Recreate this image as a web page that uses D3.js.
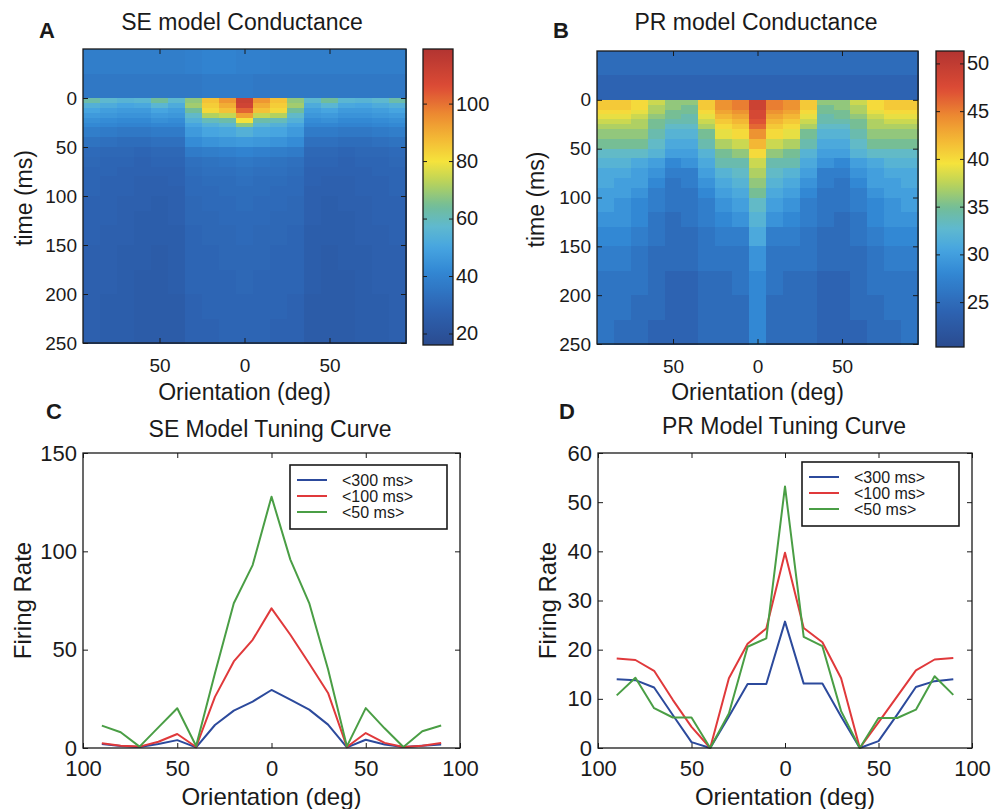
<!DOCTYPE html>
<html>
<head>
<meta charset="utf-8">
<script src="https://cdn.jsdelivr.net/npm/d3@7"></script>
<style>
  body { margin: 0; background: #fff; }
  svg { font-family: "Liberation Sans", Arial, Helvetica, sans-serif; }
</style>
</head>
<body>
<svg id="fig" width="996" height="809"></svg>
<script>
// orientation bins (deg) and time bin edges (ms) of the conductance maps
const orientations = [-90, -80, -70, -60, -50, -40, -30, -20, -10, 0, 10, 20, 30, 40, 50, 60, 70, 80, 90];
const timeEdges = [-50, -25, 0, 5, 10, 15, 20, 25, 30, 40, 50, 60, 70, 80, 90, 100, 115, 130, 150, 175, 200, 225, 250];

// SE model conductance, one row per time bin, one value per orientation
const seConductance = [
  [38, 38, 38, 38, 38, 38, 39, 40, 40, 39, 39, 38, 38, 38, 38, 38, 38, 38, 38],
  [36, 36, 36, 36, 36, 36, 36, 37, 37, 37, 36, 36, 36, 36, 36, 36, 36, 36, 36],
  [62, 57, 55, 56, 64, 57, 68, 86, 94, 112, 94, 86, 68, 57, 64, 56, 55, 57, 62],
  [54, 52, 50, 51, 56, 52, 70, 84, 90, 110, 90, 84, 70, 52, 56, 51, 50, 52, 54],
  [50, 48, 47, 47, 50, 48, 64, 82, 86, 102, 86, 82, 64, 48, 50, 47, 47, 48, 50],
  [47, 46, 45, 45, 47, 46, 58, 72, 74, 92, 74, 72, 58, 46, 47, 45, 45, 46, 47],
  [44, 43, 42, 42, 44, 43, 54, 60, 62, 80, 62, 60, 54, 43, 44, 42, 42, 43, 44],
  [42, 41, 40, 40, 41, 41, 50, 54, 56, 68, 56, 54, 50, 41, 41, 40, 40, 41, 42],
  [38, 37, 36, 36, 37, 37, 47, 50, 51, 54, 51, 50, 47, 37, 37, 36, 36, 37, 38],
  [34, 33, 32, 32, 33, 33, 43, 45, 46, 47, 46, 45, 43, 33, 33, 32, 32, 33, 34],
  [31, 30, 30, 29, 30, 30, 37, 38, 39, 40, 39, 38, 37, 30, 30, 29, 30, 30, 31],
  [30, 29, 29, 28, 29, 29, 33, 34, 35, 36, 35, 34, 33, 29, 29, 28, 29, 29, 30],
  [29, 29, 28, 28, 28, 28, 32, 33, 33, 34, 33, 33, 32, 28, 28, 28, 28, 29, 29],
  [29, 28, 28, 27, 27, 28, 31, 32, 32, 33, 32, 32, 31, 28, 27, 27, 28, 28, 29],
  [29, 28, 28, 27, 27, 27, 31, 31, 32, 32, 32, 31, 31, 27, 27, 27, 28, 28, 29],
  [28, 28, 27, 27, 26, 27, 30, 31, 31, 32, 31, 31, 30, 27, 26, 27, 27, 28, 28],
  [28, 28, 27, 26, 26, 27, 30, 30, 31, 31, 31, 30, 30, 27, 26, 26, 27, 28, 28],
  [28, 27, 27, 26, 26, 26, 29, 30, 30, 31, 30, 30, 29, 26, 26, 26, 27, 27, 28],
  [27, 27, 26, 26, 25, 26, 29, 29, 30, 30, 30, 29, 29, 26, 25, 26, 26, 27, 27],
  [27, 27, 26, 25, 25, 26, 29, 29, 29, 30, 29, 29, 29, 26, 25, 25, 26, 27, 27],
  [27, 26, 26, 25, 25, 25, 28, 29, 29, 29, 29, 29, 28, 25, 25, 25, 26, 26, 27],
  [27, 26, 26, 25, 25, 25, 28, 28, 29, 29, 29, 28, 28, 25, 25, 25, 26, 26, 27]
];

// PR model conductance
const prConductance = [
  [25, 25, 25, 25, 25, 25, 25, 25, 25, 25, 25, 25, 25, 25, 25, 25, 25, 25, 25],
  [24, 24, 24, 24, 24, 24, 24, 24, 24, 24, 24, 24, 24, 24, 24, 24, 24, 24, 24],
  [41, 41, 40, 38, 36, 36, 41, 44, 45, 49, 45, 44, 41, 36, 36, 38, 40, 41, 41],
  [41, 41, 40, 37, 36, 35, 41, 44, 45, 49, 45, 44, 41, 35, 36, 37, 40, 41, 41],
  [40, 40, 39, 37, 35, 35, 40, 43, 44, 48, 44, 43, 40, 35, 35, 37, 39, 40, 40],
  [39, 39, 38, 36, 35, 34, 39, 42, 43, 48, 43, 42, 39, 34, 35, 36, 38, 39, 39],
  [38, 38, 37, 35, 34, 34, 38, 41, 42, 47, 42, 41, 38, 34, 34, 35, 37, 38, 38],
  [37, 37, 37, 35, 33, 33, 37, 40, 41, 46, 41, 40, 37, 33, 33, 35, 37, 37, 37],
  [36, 36, 36, 34, 32, 32, 35, 39, 40, 44, 40, 39, 35, 32, 32, 34, 36, 36, 36],
  [35, 35, 35, 33, 31, 31, 34, 37, 38, 42, 38, 37, 34, 31, 31, 33, 35, 35, 35],
  [33, 33, 33, 32, 30, 30, 32, 35, 36, 40, 36, 35, 32, 30, 30, 32, 33, 33, 33],
  [32, 32, 31, 30, 28, 29, 31, 34, 34, 38, 34, 34, 31, 29, 28, 30, 31, 32, 32],
  [31, 31, 30, 29, 27, 27, 30, 32, 33, 37, 33, 32, 30, 27, 27, 29, 30, 31, 31],
  [31, 30, 30, 28, 26, 27, 29, 31, 32, 36, 32, 31, 29, 27, 26, 28, 30, 30, 31],
  [30, 30, 29, 27, 26, 26, 28, 30, 31, 35, 31, 30, 28, 26, 26, 27, 29, 30, 30],
  [30, 29, 28, 27, 26, 26, 27, 29, 30, 33, 30, 29, 27, 26, 26, 27, 28, 29, 30],
  [29, 29, 28, 26, 25, 26, 27, 28, 29, 32, 29, 28, 27, 26, 25, 26, 28, 29, 29],
  [28, 28, 27, 26, 25, 25, 26, 27, 27, 31, 27, 27, 26, 25, 25, 26, 27, 28, 28],
  [27, 27, 26, 25, 25, 25, 26, 26, 26, 29, 26, 26, 26, 25, 25, 25, 26, 27, 27],
  [26, 26, 26, 25, 24, 24, 25, 25, 26, 28, 26, 25, 25, 24, 24, 25, 26, 26, 26],
  [26, 26, 25, 25, 24, 24, 25, 25, 25, 28, 25, 25, 25, 24, 24, 25, 25, 26, 26],
  [26, 25, 25, 24, 24, 24, 25, 25, 25, 28, 25, 25, 25, 24, 24, 24, 25, 25, 26]
];

const seColorTicks = [20, 40, 60, 80, 100];
const prColorTicks = [25, 30, 35, 40, 45, 50];
const timeTicks = [0, 50, 100, 150, 200, 250];

// tuning curves (firing rate vs orientation)
const tuningAngles = [-90, -80, -70, -60, -50, -40, -30, -20, -10, 0, 10, 20, 30, 40, 50, 60, 70, 80, 90];
const seRate300 = [2, 1, 0.5, 2, 4, 0.3, 11.7, 19, 23.6, 29.5, 24.6, 19.5, 11.9, 0.3, 4.2, 1.8, 0.5, 1.2, 1.8];
const seRate100 = [2.4, 1.2, 0.7, 3.2, 7.1, 0.5, 26, 44, 55, 71, 57.6, 43, 28, 0.5, 7.6, 2.6, 0.5, 1.2, 2.5];
const seRate50 = [11.4, 8, 0.7, 10.5, 20.2, 1, 38, 73.6, 93, 127.8, 95.8, 73.7, 40, 0.8, 20.3, 10, 0.5, 8.5, 11.4];
const prRate300 = [14, 13.8, 12.3, 6.7, 1.2, 0, 6.4, 13, 13, 25.7, 13.1, 13.1, 6.4, 0, 1.4, 6.8, 12.4, 13.6, 14];
const prRate100 = [18.2, 17.9, 15.7, 9.8, 4.3, 0, 14.2, 21.2, 24.3, 39.7, 24.4, 21.5, 14.2, 0, 5.2, 10.5, 15.8, 18, 18.3];
const prRate50 = [10.7, 14.3, 8.1, 6.2, 6.2, 0, 7, 20.6, 22.3, 53.2, 22.6, 20.7, 7.5, 0, 6.1, 6.1, 7.8, 14.6, 10.8];
const legendLabels = ['<300 ms>', '<100 ms>', '<50 ms>'];
const lineColors = ['#2c4a9c', '#e0393b', '#4a9e45'];

const ink = '#1a1a1a';
const svg = d3.select('#fig');
const defs = svg.append('defs');

// printed-jet style colormap
const jetStops = [0, 0.12, 0.25, 0.33, 0.40, 0.47, 0.55, 0.62, 0.70, 0.78, 0.87, 1];
const jetColors = ['#2a4b8f', '#2d63b2', '#3288d4', '#47a5e0', '#5fb9cf', '#72bd98',
                   '#b9d35a', '#f5e33c', '#f3b735', '#ec8a31', '#dd4c35', '#b23431'];
const makeColor = (lo, hi) => d3.scaleLinear()
    .domain(jetStops.map(t => lo + t * (hi - lo)))
    .range(jetColors)
    .interpolate(d3.interpolateRgb)
    .clamp(true);

const styleAxis = (sel, size) => {
    sel.attr('font-family', null).attr('font-size', size);
    sel.select('.domain').remove();
    sel.selectAll('line').attr('stroke', ink).attr('stroke-width', 1);
    sel.selectAll('text').attr('fill', ink);
};

function drawHeatmap(c) {
    const x = d3.scaleLinear().domain([-95, 95]).range([c.x0, c.x1]);
    const y = d3.scaleLinear().domain([-50, 250]).range([c.y0, c.y1]);
    const color = makeColor(c.cmin, c.cmax);
    const g = svg.append('g');

    const cells = [];
    c.data.forEach((row, i) => row.forEach((v, j) => cells.push({ i, j, v })));
    g.append('g').attr('shape-rendering', 'crispEdges')
        .selectAll('rect').data(cells).join('rect')
        .attr('x', d => x(orientations[d.j] - 5))
        .attr('y', d => y(timeEdges[d.i]))
        .attr('width', d => x(orientations[d.j] + 5) - x(orientations[d.j] - 5) + 0.5)
        .attr('height', d => y(timeEdges[d.i + 1]) - y(timeEdges[d.i]) + 0.5)
        .attr('fill', d => color(d.v));

    // axes, MATLAB style ticks inside the box
    g.append('g').attr('transform', `translate(${c.x0},0)`)
        .call(d3.axisLeft(y).tickValues(timeTicks).tickSize(-5).tickPadding(6))
        .call(s => styleAxis(s, 19));
    g.append('g').attr('transform', `translate(${c.x1},0)`)
        .call(d3.axisRight(y).tickValues(timeTicks).tickSize(-5).tickFormat(''))
        .call(s => styleAxis(s, 19));
    g.append('g').attr('transform', `translate(0,${c.y1})`)
        .call(d3.axisBottom(x).tickValues([-50, 0, 50]).tickSize(-5).tickPadding(16).tickFormat(d => Math.abs(d)))
        .call(s => styleAxis(s, 19));
    g.append('g').attr('transform', `translate(0,${c.y0})`)
        .call(d3.axisTop(x).tickValues([-50, 0, 50]).tickSize(-5).tickFormat(''))
        .call(s => styleAxis(s, 19));
    g.append('rect')
        .attr('x', c.x0).attr('y', c.y0)
        .attr('width', c.x1 - c.x0).attr('height', c.y1 - c.y0)
        .attr('fill', 'none').attr('stroke', ink).attr('stroke-width', 1.3);

    // colorbar
    const gid = 'grad' + c.letter;
    const grad = defs.append('linearGradient').attr('id', gid)
        .attr('x1', 0).attr('y1', 1).attr('x2', 0).attr('y2', 0);
    d3.range(0, 1.0001, 0.02).forEach(t => {
        grad.append('stop').attr('offset', t).attr('stop-color', color(c.cmin + t * (c.cmax - c.cmin)));
    });
    const cy = d3.scaleLinear().domain([c.cmin, c.cmax]).range([c.cb.y1, c.cb.y0]);
    g.append('rect')
        .attr('x', c.cb.x0).attr('y', c.cb.y0)
        .attr('width', c.cb.x1 - c.cb.x0).attr('height', c.cb.y1 - c.cb.y0)
        .attr('fill', `url(#${gid})`);
    g.append('g').attr('transform', `translate(${c.cb.x1},0)`)
        .call(d3.axisRight(cy).tickValues(c.cticks).tickSize(-4).tickPadding(3))
        .call(s => styleAxis(s, 20));
    g.append('g').attr('transform', `translate(${c.cb.x0},0)`)
        .call(d3.axisLeft(cy).tickValues(c.cticks).tickSize(-4).tickFormat(''))
        .call(s => styleAxis(s, 20));
    g.append('rect')
        .attr('x', c.cb.x0).attr('y', c.cb.y0)
        .attr('width', c.cb.x1 - c.cb.x0).attr('height', c.cb.y1 - c.cb.y0)
        .attr('fill', 'none').attr('stroke', ink).attr('stroke-width', 1.3);

    // labels
    g.append('text').attr('x', c.titleX).attr('y', 30)
        .attr('text-anchor', 'middle').attr('font-size', 23).attr('fill', ink).text(c.title);
    g.append('text').attr('x', c.letterX).attr('y', 38)
        .attr('font-size', 22).attr('font-weight', 'bold').attr('fill', ink).text(c.letter);
    g.append('text').attr('x', (c.x0 + c.x1) / 2).attr('y', 400)
        .attr('text-anchor', 'middle').attr('font-size', 23).attr('fill', ink).text('Orientation (deg)');
    g.append('text').attr('transform', `translate(${c.ylabX},${(c.y0 + c.y1) / 2 + 2}) rotate(-90)`)
        .attr('text-anchor', 'middle').attr('font-size', 23).attr('fill', ink).text('time (ms)');
}

function drawTuning(c) {
    const x = d3.scaleLinear().domain([-100, 100]).range([c.x0, c.x1]);
    const y = d3.scaleLinear().domain([0, c.ymax]).range([c.y1, c.y0]);
    const g = svg.append('g');

    g.append('g').attr('transform', `translate(${c.x0},0)`)
        .call(d3.axisLeft(y).tickValues(c.yticks).tickSize(-5).tickPadding(6))
        .call(s => styleAxis(s, 22));
    g.append('g').attr('transform', `translate(${c.x1},0)`)
        .call(d3.axisRight(y).tickValues(c.yticks).tickSize(-5).tickFormat(''))
        .call(s => styleAxis(s, 22));
    g.append('g').attr('transform', `translate(0,${c.y1})`)
        .call(d3.axisBottom(x).tickValues([-100, -50, 0, 50, 100]).tickSize(-5).tickPadding(12).tickFormat(d => Math.abs(d)))
        .call(s => styleAxis(s, 22));
    g.append('g').attr('transform', `translate(0,${c.y0})`)
        .call(d3.axisTop(x).tickValues([-100, -50, 0, 50, 100]).tickSize(-5).tickFormat(''))
        .call(s => styleAxis(s, 22));

    const line = d3.line().x((d, i) => x(tuningAngles[i])).y(d => y(d));
    c.series.forEach((s, k) => {
        g.append('path').datum(s)
            .attr('fill', 'none').attr('stroke', lineColors[k])
            .attr('stroke-width', 2).attr('stroke-linejoin', 'round')
            .attr('d', line);
    });

    g.append('rect')
        .attr('x', c.x0).attr('y', c.y0)
        .attr('width', c.x1 - c.x0).attr('height', c.y1 - c.y0)
        .attr('fill', 'none').attr('stroke', ink).attr('stroke-width', 1.3);

    // legend
    const lg = g.append('g').attr('transform', `translate(${c.legend.x},${c.legend.y})`);
    lg.append('rect').attr('width', 157).attr('height', 64)
        .attr('fill', '#fff').attr('stroke', ink).attr('stroke-width', 1.6);
    legendLabels.forEach((lab, k) => {
        const ly = 15 + k * 16;
        lg.append('line').attr('x1', 7).attr('x2', 37).attr('y1', ly).attr('y2', ly)
            .attr('stroke', lineColors[k]).attr('stroke-width', 2);
        lg.append('text').attr('x', 52).attr('y', ly).attr('dy', '0.36em')
            .attr('font-size', 16).attr('fill', ink).text(lab);
    });

    g.append('text').attr('x', c.titleX).attr('y', c.titleY)
        .attr('text-anchor', 'middle').attr('font-size', 23).attr('fill', ink).text(c.title);
    g.append('text').attr('x', c.letterX).attr('y', 419)
        .attr('font-size', 22).attr('font-weight', 'bold').attr('fill', ink).text(c.letter);
    g.append('text').attr('x', (c.x0 + c.x1) / 2).attr('y', 805)
        .attr('text-anchor', 'middle').attr('font-size', 24).attr('fill', ink).text('Orientation (deg)');
    g.append('text').attr('transform', `translate(${c.ylabX},${(c.y0 + c.y1) / 2}) rotate(-90)`)
        .attr('text-anchor', 'middle').attr('font-size', 24).attr('fill', ink).text('Firing Rate');
}

drawHeatmap({
    letter: 'A', letterX: 39, title: 'SE model Conductance', titleX: 242, ylabX: 32,
    x0: 83, x1: 406, y0: 49, y1: 343, data: seConductance,
    cmin: 16, cmax: 119, cticks: seColorTicks,
    cb: { x0: 423, x1: 453, y0: 49, y1: 345 }
});
drawHeatmap({
    letter: 'B', letterX: 553, title: 'PR model Conductance', titleX: 756, ylabX: 544,
    x0: 597, x1: 918, y0: 51, y1: 344, data: prConductance,
    cmin: 20.3, cmax: 51.3, cticks: prColorTicks,
    cb: { x0: 936, x1: 964, y0: 51, y1: 347 }
});
drawTuning({
    letter: 'C', letterX: 46, title: 'SE Model Tuning Curve', titleX: 270, titleY: 437, ylabX: 31,
    x0: 83, x1: 460, y0: 453, y1: 748, ymax: 150, yticks: [0, 50, 100, 150],
    series: [seRate300, seRate100, seRate50], legend: { x: 290, y: 465 }
});
drawTuning({
    letter: 'D', letterX: 559, title: 'PR Model Tuning Curve', titleX: 784, titleY: 434, ylabX: 556,
    x0: 598, x1: 972, y0: 453, y1: 748, ymax: 60, yticks: [0, 10, 20, 30, 40, 50, 60],
    series: [prRate300, prRate100, prRate50], legend: { x: 802, y: 462 }
});
</script>
</body>
</html>
